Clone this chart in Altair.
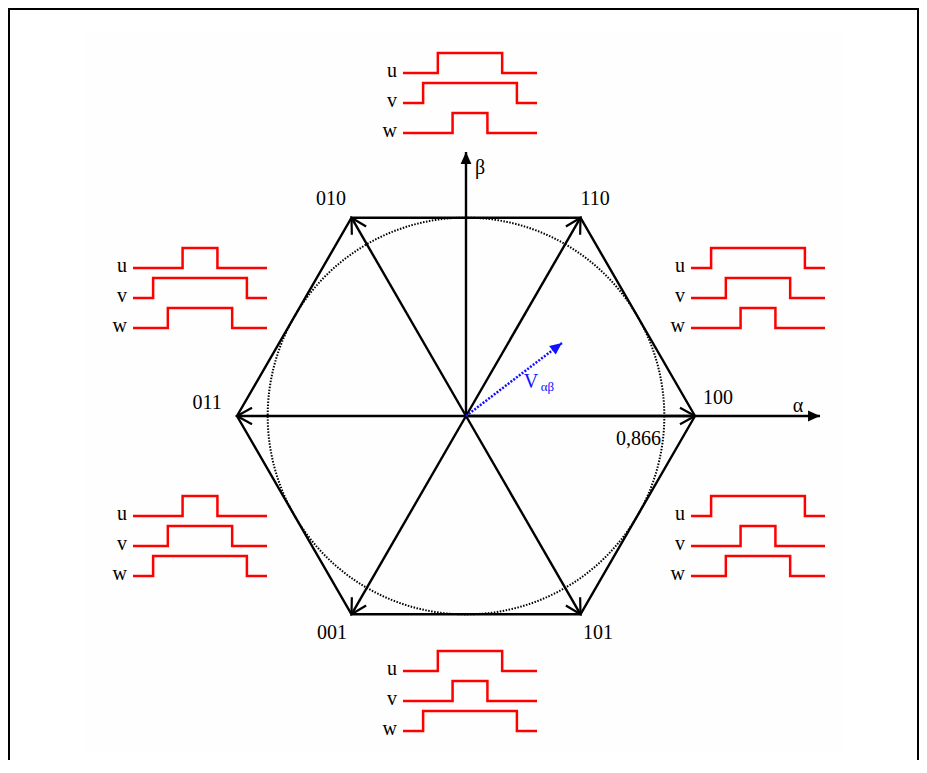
import math
import altair as alt
import pandas as pd

# ---------------- data ----------------
states = ["100", "110", "010", "011", "001", "101"]
state_x = [1.0, 0.5, -0.5, -1.0, -0.5, 0.5]
state_y = [0.0, 0.866, 0.866, 0.0, -0.866, -0.866]
state_angle = [0, 60, 120, 180, 240, 300]
circle_r = 0.866
v_ab = (0.419, 0.319)
alpha_len = 1.546
beta_len = 1.153

signals = ["u", "v", "w"]
pulse = {"narrow": (0.37, 0.63), "medium": (0.26, 0.74), "wide": (0.15, 0.85)}
groups = ["top", "ul", "ur", "ll", "lr", "bot"]
group_u = ["medium", "narrow", "wide", "narrow", "wide", "medium"]
group_v = ["wide", "wide", "medium", "medium", "narrow", "narrow"]
group_w = ["narrow", "medium", "narrow", "wide", "medium", "wide"]

# ---------------- layout (pixels) ----------------
W, H = 911, 752
PX = 229.0           # pixels per unit
OX, OY = 466, 416    # diagram centre in page pixels


def ux(px):
    return (px - OX) / PX


def uy(py):
    return (OY - py) / PX


group_anchor_px = {
    "top": (403, 73), "ul": (133, 268), "ur": (691, 268),
    "ll": (133, 516), "lr": (691, 516), "bot": (403, 671),
}
WF_W, ROW, AMP = 134, 30, 20

xs = alt.Scale(domain=[ux(8), ux(8 + W)], nice=False, zero=False)
ys = alt.Scale(domain=[uy(8 + H), uy(8)], nice=False, zero=False)


def X(f="x"):
    return alt.X(f"{f}:Q", scale=xs, axis=None)


def Y(f="y"):
    return alt.Y(f"{f}:Q", scale=ys, axis=None)


# ---------------- tables ----------------
verts = pd.DataFrame({"state": states, "x": state_x, "y": state_y,
                      "ang": [(90 - a) % 360 for a in state_angle]})
verts["x0"] = 0.0
verts["y0"] = 0.0

hexdf = pd.DataFrame({"x": state_x + [state_x[0]], "y": state_y + [state_y[0]],
                      "o": list(range(7))})

axes = pd.DataFrame({"x0": [0.0, 0.0], "y0": [0.0, 0.0],
                     "x": [alpha_len, 0.0], "y": [0.0, beta_len],
                     "ang": [90, 0]})

vdf = pd.DataFrame({"x0": [0.0], "y0": [0.0], "x": [v_ab[0]], "y": [v_ab[1]]})
vdf["ang"] = (90 - math.degrees(math.atan2(v_ab[1], v_ab[0]))) % 360

centre = pd.DataFrame({"x": [0.0], "y": [0.0]})

rows = []
lab_rows = []
for g, pu, pv, pw in zip(groups, group_u, group_v, group_w):
    x0, y0 = group_anchor_px[g]
    for i, (s, p) in enumerate(zip(signals, (pu, pv, pw))):
        a, b = pulse[p]
        low = y0 + i * ROW
        high = low - AMP
        pts = [(0, low), (a, low), (a, high), (b, high), (b, low), (1, low)]
        for k, (t, yy) in enumerate(pts):
            rows.append(dict(key=f"{g}-{s}", o=k, x=ux(x0 + t * WF_W), y=uy(yy)))
        lab_rows.append(dict(text=s, x=ux(x0 - 6), y=uy(low + 4)))
wave = pd.DataFrame(rows)
wlab = pd.DataFrame(lab_rows)

label_px = {"010": (331, 205), "110": (595, 205), "011": (207, 409),
            "100": (718, 404), "001": (332, 639), "101": (598, 639),
            "α": (798, 412), "β": (480, 174)}
labels = pd.DataFrame({"text": list(label_px.keys()),
                       "x": [ux(p[0]) for p in label_px.values()],
                       "y": [uy(p[1]) for p in label_px.values()]})
val_label = pd.DataFrame({"text": ["0,866"], "x": [ux(661)], "y": [uy(445)]})
v_label = pd.DataFrame({"text": ["V"], "x": [ux(531)], "y": [uy(388)]})
v_sub = pd.DataFrame({"text": ["αβ"], "x": [ux(547.5)], "y": [uy(391)]})

FONT = "Liberation Serif, Times New Roman, serif"
FS = 20
BLUE = "#1010ff"
RED = "#ff0000"

chevron = "M -0.55 1 L 0 0 L 0.55 1"
tri = "M -0.45 1 L 0 0 L 0.45 1 Z"

layers = [
    # very light background panel
    alt.Chart(pd.DataFrame({"x": [ux(86)], "x2": [ux(843)], "y": [uy(33)], "y2": [uy(752)]}))
    .mark_rect(color="#fefefe").encode(x=X(), x2="x2:Q", y=Y(), y2="y2:Q"),
    # frame (left, top, right)
    alt.Chart(centre).mark_rule(color="black", strokeWidth=2)
    .encode(x=alt.value(1), y=alt.value(0), y2=alt.value(H)),
    alt.Chart(centre).mark_rule(color="black", strokeWidth=2)
    .encode(x=alt.value(W - 1), y=alt.value(0), y2=alt.value(H)),
    alt.Chart(centre).mark_rule(color="black", strokeWidth=2)
    .encode(x=alt.value(0), x2=alt.value(W), y=alt.value(1)),
    # dotted circle
    alt.Chart(centre).mark_point(shape="circle", filled=False, stroke="black",
                                 strokeWidth=2, strokeDash=[1.5, 1.5], opacity=1,
                                 size=(2 * circle_r * PX) ** 2)
    .encode(x=X(), y=Y()),
    # hexagon
    alt.Chart(hexdf).mark_line(color="black", strokeWidth=2.4, strokeJoin="miter")
    .encode(x=X(), y=Y(), order="o:Q"),
    # state vectors
    alt.Chart(verts).mark_rule(color="black", strokeWidth=2.4)
    .encode(x=X("x0"), y=Y("y0"), x2="x:Q", y2="y:Q"),
    alt.Chart(verts).mark_point(shape=chevron, filled=False, stroke="black",
                                strokeWidth=2.2, size=900, opacity=1)
    .encode(x=X(), y=Y(), angle=alt.Angle("ang:Q", scale=None)),
    # alpha / beta axes
    alt.Chart(axes).mark_rule(color="black", strokeWidth=2.4)
    .encode(x=X("x0"), y=Y("y0"), x2="x:Q", y2="y:Q"),
    alt.Chart(axes).mark_point(shape=tri, filled=True, color="black", size=576, opacity=1)
    .encode(x=X(), y=Y(), angle=alt.Angle("ang:Q", scale=None)),
    # V alpha-beta
    alt.Chart(vdf).mark_rule(color=BLUE, strokeWidth=2.5, strokeDash=[2, 1.5])
    .encode(x=X("x0"), y=Y("y0"), x2="x:Q", y2="y:Q"),
    alt.Chart(vdf).mark_point(shape=tri, filled=True, color=BLUE, size=576, opacity=1)
    .encode(x=X(), y=Y(), angle=alt.Angle("ang:Q", scale=None)),
    # waveforms
    alt.Chart(wave).mark_line(color=RED, strokeWidth=2.5, strokeJoin="miter")
    .encode(x=X(), y=Y(), detail="key:N", order="o:Q"),
    alt.Chart(wlab).mark_text(font=FONT, fontSize=FS, align="right", baseline="alphabetic",
                              color="black")
    .encode(x=X(), y=Y(), text="text:N"),
    # labels
    alt.Chart(labels).mark_text(font=FONT, fontSize=FS, align="center",
                                baseline="alphabetic", color="black")
    .encode(x=X(), y=Y(), text="text:N"),
    alt.Chart(val_label).mark_text(font=FONT, fontSize=FS, align="right",
                                   baseline="alphabetic", color="black")
    .encode(x=X(), y=Y(), text="text:N"),
    alt.Chart(v_label).mark_text(font=FONT, fontSize=FS, align="center",
                                 baseline="alphabetic", color=BLUE)
    .encode(x=X(), y=Y(), text="text:N"),
    alt.Chart(v_sub).mark_text(font=FONT, fontSize=13, align="center",
                               baseline="alphabetic", color=BLUE)
    .encode(x=X(), y=Y(), text="text:N"),
]

chart = (
    alt.layer(*layers)
    .properties(width=W, height=H, padding=0, autosize="none", background="white")
    .configure_view(strokeWidth=0)
)

chart.save("out.html", embed_options={"renderer": "svg", "actions": False})
